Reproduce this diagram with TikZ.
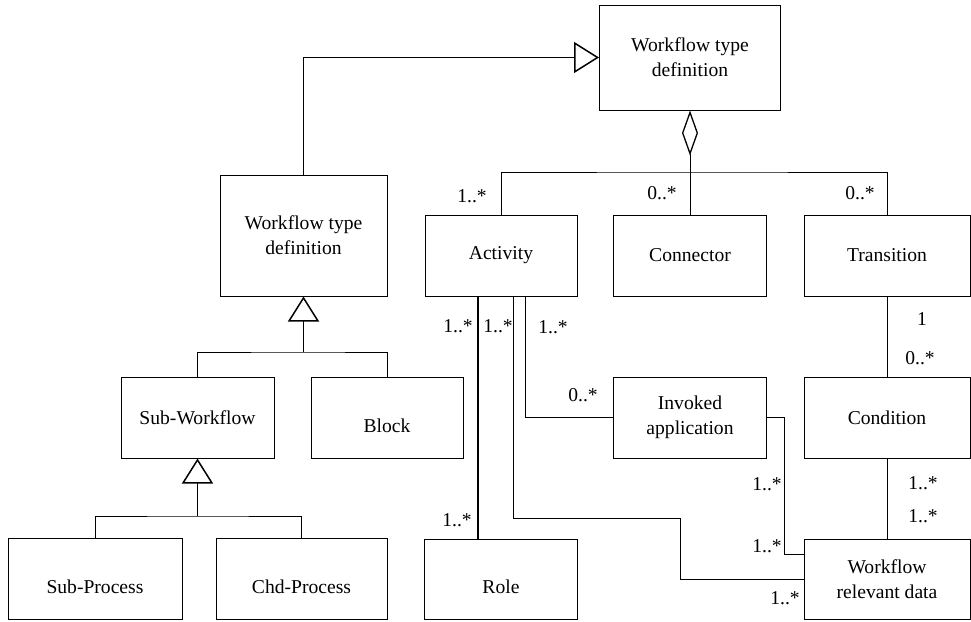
\documentclass[tikz,border=0pt]{standalone}
\usepackage{fontspec}
\setmainfont{Liberation Serif}
\usetikzlibrary{arrows.meta}

\begin{document}
\begin{tikzpicture}[x=1pt, y=-1pt, line join=miter]
  % ---- Styles ----
  \tikzset{
    cls/.style={draw, line width=1pt, inner sep=0pt, minimum height=81pt,
      align=center, font=\fontsize{19.6}{25}\selectfont},
    lowered/.style={text height=29pt, text depth=0pt},
    mult/.style={inner sep=0pt, font=\fontsize{19.6}{25}\selectfont},
    assoc/.style={line width=1pt},
    gen/.style={-{Triangle[open, length=25pt, width=31pt, line width=1.5pt]}, line width=1pt},
    agg/.style={{Diamond[open, length=45pt, width=16pt, line width=1.3pt]}-, line width=1pt},
  }

  \useasboundingbox (0,0) rectangle (971,621);

  % ---- Classes ----
  \node[cls, minimum width=181pt, minimum height=105pt] (wtdTop) at (690,57.5) {Workflow type\\definition};
  \node[cls, minimum width=167pt, minimum height=121pt] (wtdLeft) at (303.5,235.5) {Workflow type\\definition};
  \node[cls, minimum width=153pt] (subwf) at (197.5,417.5) {Sub-Workflow};
  \node[cls, lowered, minimum width=152pt] (block) at (387,417.5) {Block};
  \node[cls, lowered, minimum width=174pt] (subproc) at (95,578.5) {Sub-Process};
  \node[cls, lowered, minimum width=171pt] (chdproc) at (301.5,578.5) {Chd-Process};
  \node[cls, minimum width=152pt] (activity) at (501,255.5) {Activity};
  \node[cls, minimum width=153pt] (connector) at (690,255.5) {Connector};
  \node[cls, minimum width=166pt] (transition) at (887,255.5) {Transition};
  \node[cls, minimum width=153pt] (invoked) at (690,417.5) {Invoked\\application};
  \node[cls, minimum width=166pt] (condition) at (887,417.5) {Condition};
  \node[cls, lowered, minimum width=153pt, minimum height=80pt] (role) at (501,579) {Role};
  \node[cls, minimum width=166pt, minimum height=80pt] (wrd) at (887,579) {Workflow\\relevant data};

  % ---- Generalisations ----
  \draw[gen] (wtdLeft.north) |- (wtdTop.west);
  \coordinate (genA) at (303.5,352);
  \draw[gen] (genA) -- (wtdLeft.south);
  \draw[assoc] (subwf.north) |- (genA) -| (block.north);
  \coordinate (genB) at (197.5,516);
  \draw[gen] (genB) -- (subwf.south);
  \draw[assoc] (subproc.north) |- (genB) -| (chdproc.north);

  % ---- Aggregation ----
  \coordinate (hub) at (690,172);
  \draw[agg] (wtdTop.south) -- (connector.north);
  \draw[assoc] (activity.north) |- (hub) -| (transition.north);

  % ---- Associations ----
  \draw[assoc, line width=1.6pt] ([xshift=-23pt]activity.south) -- ([xshift=-23pt]role.north);
  \coordinate (bendA) at (680,518);
  \draw[assoc] ([xshift=12pt]activity.south) |- (bendA) |- (wrd.west);
  \draw[assoc] ([xshift=24pt]activity.south) |- (invoked.west);
  \draw[assoc] (invoked.east) -- ++(17,0) |- ([yshift=25pt]wrd.west);
  \draw[assoc] (transition.south) -- (condition.north);
  \draw[assoc] (condition.south) -- (wrd.north);

  % ---- Multiplicities ----
  \node[mult] (m1) at (472,196) {1..*};
  \node[mult] (m2) at (662,193) {0..*};
  \node[mult] (m3) at (860,193) {0..*};
  \node[mult] (m4) at (458,326) {1..*};
  \node[mult] (m5) at (498,326) {1..*};
  \node[mult] (m6) at (553,327) {1..*};
  \node[mult] (m7) at (922,319) {1};
  \node[mult] (m8) at (920,358) {0..*};
  \node[mult] (m9) at (583,395) {0..*};
  \node[mult] (m10) at (457,520) {1..*};
  \node[mult] (m11) at (767,484) {1..*};
  \node[mult] (m12) at (767,546) {1..*};
  \node[mult] (m13) at (923,483) {1..*};
  \node[mult] (m14) at (923,516) {1..*};
  \node[mult] (m15) at (785,598) {1..*};

\end{tikzpicture}
\end{document}
